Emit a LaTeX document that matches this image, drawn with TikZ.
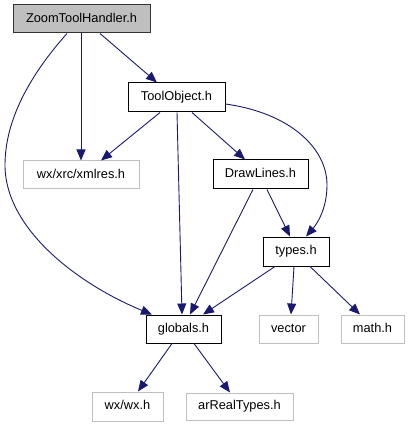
\documentclass[tikz,border=0pt]{standalone}
\usepackage{fontspec}
\setmainfont{Liberation Sans}
\usetikzlibrary{arrows.meta}
\definecolor{edgeblue}{RGB}{25,25,112}
\definecolor{extgray}{RGB}{191,191,191}
\tikzset{
  hbox/.style={draw=black, line width=1pt, inner sep=0pt, anchor=center,
    font=\fontsize{12.8}{15}\selectfont, text height=9.2pt, text depth=2.6pt},
  extbox/.style={hbox, draw=extgray},
  rootbox/.style={hbox, fill=extgray, draw=black!80},
  dep/.style={draw=edgeblue, line width=0.9pt, -{Triangle[length=11pt,width=9pt]}}
}
\begin{document}
\begin{tikzpicture}[x=1pt,y=-1pt]
\useasboundingbox (0,0) rectangle (409,427);
\node[rootbox, minimum width=137pt, minimum height=28pt] (zth) at (81.5,19) {ZoomToolHandler.h};
\node[hbox, minimum width=97pt, minimum height=29pt] (to) at (176.5,97.5) {ToolObject.h};
\node[extbox, minimum width=116pt, minimum height=28pt] (xml) at (81,175) {wx/xrc/xmlres.h};
\node[hbox, minimum width=95pt, minimum height=29pt] (dl) at (260.5,174.5) {DrawLines.h};
\node[hbox, minimum width=66pt, minimum height=29pt] (ty) at (296,251.5) {types.h};
\node[hbox, minimum width=75pt, minimum height=28pt] (gl) at (183.5,329) {globals.h};
\node[extbox, minimum width=59pt, minimum height=28pt] (vec) at (288.5,329) {vector};
\node[extbox, minimum width=63pt, minimum height=28pt] (math) at (372.5,329) {math.h};
\node[extbox, minimum width=71pt, minimum height=29pt] (wx) at (127.5,406.5) {wx/wx.h};
\node[extbox, minimum width=107pt, minimum height=27pt] (ar) at (239.5,406.5) {arRealTypes.h};

\draw[dep] ([xshift=-0.5pt]zth.south) -- (xml.north);
\draw[dep] ([xshift=18.5pt]zth.south) -- ([xshift=-19.5pt]to.north);
\coordinate (bendl) at (5,165);
\draw[dep] ([xshift=-14.5pt]zth.south) .. controls (30,75) and (5,120) .. (bendl)
  .. controls (5,230) and (80,285) .. ([xshift=-31.5pt]gl.north);
\draw[dep] ([xshift=-16.5pt]to.south) -- ([xshift=20pt]xml.north);
\draw[dep] ([xshift=0.5pt]to.south) -- ([xshift=-1.5pt]gl.north);
\draw[dep] ([xshift=15.5pt]to.south) -- ([xshift=-15.5pt]dl.north);
\coordinate (bendr) at (327,185);
\draw[dep] ([yshift=-6.5pt]to.east) .. controls (290,113) and (327,148) .. (bendr)
  .. controls (327,210) and (316,225) .. ([xshift=10pt]ty.north);
\draw[dep] ([xshift=-7.5pt]dl.south) -- ([xshift=6.5pt]gl.north);
\draw[dep] ([xshift=6.5pt]dl.south) -- ([xshift=-6pt]ty.north);
\draw[dep] ([xshift=-21pt]ty.south) -- ([xshift=19.5pt]gl.north);
\draw[dep] ([xshift=-2pt]ty.south) -- ([xshift=2.5pt]vec.north);
\draw[dep] ([xshift=14pt]ty.south) -- ([xshift=-12.5pt]math.north);
\draw[dep] ([xshift=-11.5pt]gl.south) -- ([xshift=10.5pt]wx.north);
\draw[dep] ([xshift=10.5pt]gl.south) -- ([xshift=-9.5pt]ar.north);
\end{tikzpicture}
\end{document}
